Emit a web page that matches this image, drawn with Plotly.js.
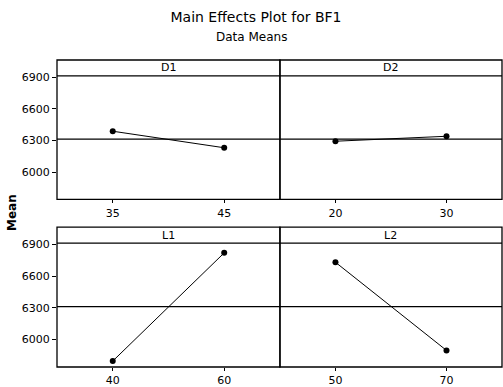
<!DOCTYPE html>
<html>
<head>
<meta charset="utf-8">
<script src="https://cdn.plot.ly/plotly-3.0.1.min.js"></script>
<style>html,body{margin:0;padding:0;background:#fff;}#chart{width:503px;height:387px;}</style>
</head>
<body>
<div id="chart"></div>
<script>
// Factor names and their levels (tick labels)
const factors = ["D1", "D2", "L1", "L2"];
const levelsD1 = ["35", "45"];
const levelsD2 = ["20", "30"];
const levelsL1 = ["40", "60"];
const levelsL2 = ["50", "70"];
// Mean of BF1 at each level
const meansD1 = [6388, 6231];
const meansD2 = [6293, 6340];
const meansL1 = [5796, 6821];
const meansL2 = [6732, 5897];
// Y tick values
const yTicks = [6000, 6300, 6600, 6900];

const levels = [levelsD1, levelsD2, levelsL1, levelsL2];
const means = [meansD1, meansD2, meansL1, meansL2];
const all = means.flat();
const grandMean = all.reduce((a, b) => a + b, 0) / all.length;

const FONT = "DejaVu Sans, Arial, sans-serif";
const traces = [];
const layout = {
  width: 503, height: 387,
  margin: {l: 57, r: 1, t: 60, b: 20},
  paper_bgcolor: "#fff", plot_bgcolor: "#fff",
  showlegend: false,
  font: {family: FONT, size: 11, color: "#000"},
  title: {text: "Main Effects Plot for BF1", font: {family: FONT, size: 14, color: "#000"},
          xref: "container", yref: "container", x: 256/503, xanchor: "center", y: 1 - 17/387, yanchor: "middle"},
  shapes: [], annotations: []
};

const xDomains = [[0, 0.501], [0.501, 1], [0, 0.501], [0.501, 1]];
const yDomains = [[0.5459, 1], [0.5459, 1], [0, 0.4557], [0, 0.4557]];

for (let i = 0; i < 4; i++) {
  const n = i + 1;
  const xa = "xaxis" + (n === 1 ? "" : n), ya = "yaxis" + (n === 1 ? "" : n);
  const xr = "x" + (n === 1 ? "" : n), yr = "y" + (n === 1 ? "" : n);
  traces.push({
    type: "scatter", mode: "lines+markers",
    x: levels[i], y: means[i], xaxis: xr, yaxis: yr,
    line: {color: "#000", width: 1},
    marker: {color: "#000", size: 6, symbol: "circle"},
    hoverinfo: "skip", cliponaxis: false
  });
  layout[xa] = {
    domain: xDomains[i], anchor: yr, type: "category", range: [-0.5, 1.5],
    showline: false, showgrid: false, zeroline: false,
    ticks: "outside", ticklen: 3, tickwidth: 1, tickcolor: "#000",
    tickfont: {family: FONT, size: 11, color: "#000"}, fixedrange: true
  };
  layout[ya] = {
    domain: yDomains[i], anchor: xr, range: [5740, 7065],
    showline: false, showgrid: false, zeroline: false,
    tickvals: yTicks, ticktext: yTicks.map(String),
    ticks: (i % 2 === 0) ? "outside" : "", ticklen: 4, tickwidth: 1, tickcolor: "#000",
    showticklabels: i % 2 === 0,
    tickfont: {family: FONT, size: 11, color: "#000"}, fixedrange: true
  };
  // panel frame
  layout.shapes.push({type: "rect", xref: xr + " domain", x0: 0, x1: 1, yref: yr + " domain", y0: 0, y1: 1,
                      line: {color: "#000", width: 1.3}, fillcolor: "rgba(0,0,0,0)"});
  // grand mean reference line
  layout.shapes.push({type: "line", xref: xr + " domain", x0: 0, x1: 1, yref: yr, y0: grandMean, y1: grandMean,
                      line: {color: "#000", width: 1.2}});
  // strip line
  layout.shapes.push({type: "line", xref: xr + " domain", x0: 0, x1: 1, yref: yr + " domain", y0: 1 - 16/140, y1: 1 - 16/140,
                      line: {color: "#000", width: 1.2}});
  // strip label
  layout.annotations.push({text: factors[i], xref: xr + " domain", yref: yr + " domain", x: 0.5, y: 1 - 8/140,
                           xanchor: "center", yanchor: "middle", showarrow: false,
                           font: {family: FONT, size: 11, color: "#000"}});
}

layout.annotations.push({text: "Data Means", xref: "paper", yref: "paper", x: (251 - 57) / 445, y: 1, yshift: 23,
                         xanchor: "center", yanchor: "middle", showarrow: false,
                         font: {family: FONT, size: 12, color: "#000"}});
layout.annotations.push({text: "<b>Mean</b>", xref: "paper", yref: "paper", x: 0, xshift: -45, y: (367 - 213) / 307,
                         xanchor: "center", yanchor: "middle", textangle: -90, showarrow: false,
                         font: {family: FONT, size: 12, color: "#000"}});

Plotly.newPlot("chart", traces, layout, {displayModeBar: false, staticPlot: true});
</script>
</body>
</html>
